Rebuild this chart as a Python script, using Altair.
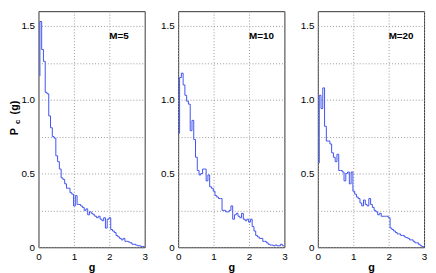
import altair as alt
import pandas as pd

# bin starts (g) for the step curves
G = [round(0.04 + 0.05 * i, 2) for i in range(60)]

labels = ["M=5", "M=10", "M=20"]
start_vals = [1.16, 0.77, 0.57]

P5 = [1.53, 1.34, 1.26, 1.05, 1.04, 0.89, 0.81, 0.75, 0.74, 0.62,
      0.58, 0.53, 0.47, 0.46, 0.43, 0.40, 0.40, 0.37, 0.36, 0.28,
      0.35, 0.29, 0.29, 0.28, 0.27, 0.25, 0.26, 0.22, 0.24, 0.23,
      0.22, 0.21, 0.20, 0.21, 0.19, 0.18, 0.20, 0.13, 0.19, 0.20,
      0.12, 0.11, 0.10, 0.08, 0.07, 0.06, 0.05, 0.06, 0.04, 0.04,
      0.035, 0.03, 0.02, 0.02, 0.015, 0.01, 0.01, 0.005, 0.005, 0.003]

P10 = [1.15, 1.18, 1.10, 1.03, 0.99, 0.97, 0.79, 0.86, 0.73, 0.61,
       0.52, 0.49, 0.50, 0.53, 0.53, 0.45, 0.49, 0.41, 0.40, 0.38,
       0.35, 0.34, 0.33, 0.33, 0.25, 0.25, 0.24, 0.24, 0.25, 0.28,
       0.19, 0.22, 0.23, 0.21, 0.20, 0.23, 0.19, 0.18, 0.19, 0.17,
       0.19, 0.14, 0.11, 0.08, 0.07, 0.06, 0.06, 0.04, 0.04, 0.03,
       0.02, 0.015, 0.015, 0.01, 0.015, 0.01, 0.01, 0.02, 0.01, 0.01]

P20 = [1.03, 0.94, 1.08, 0.82, 0.72, 0.72, 0.70, 0.64, 0.61, 0.58,
       0.63, 0.52, 0.52, 0.51, 0.45, 0.50, 0.51, 0.43, 0.51, 0.38,
       0.36, 0.34, 0.33, 0.30, 0.28, 0.32, 0.29, 0.28, 0.33, 0.29,
       0.27, 0.25, 0.24, 0.22, 0.23, 0.21, 0.21, 0.21, 0.21, 0.20,
       0.13, 0.12, 0.11, 0.10, 0.09, 0.09, 0.08, 0.08, 0.07, 0.065,
       0.06, 0.05, 0.05, 0.04, 0.03, 0.03, 0.02, 0.01, 0.005, 0.003]

series = [P5, P10, P20]

FONT = "Liberation Sans"
BLUE = "#3f52f0"
Y_TICKS = [0, 0.25, 0.5, 0.75, 1.0, 1.25, 1.5]
X_TICKS = [0, 1, 2, 3]
W, H = 108, 240

X_ENC = alt.X("g:Q", scale=alt.Scale(domain=[0, 3], nice=False),
              axis=alt.Axis(values=X_TICKS, title="g", format="d", ticks=False,
                            labelOverlap=False, labelFlush=False,
                            grid=True, gridDash=[1, 2], gridColor="#999999",
                            labelFont=FONT, labelFontSize=10, labelColor="black",
                            labelPadding=4, titleFont=FONT, titleFontSize=11,
                            titleFontWeight="bold", titlePadding=1, domain=False))
Y_ENC = alt.Y("p:Q", scale=alt.Scale(domain=[0, 1.6], nice=False),
              axis=alt.Axis(values=Y_TICKS, title=None, ticks=False,
                            labelOverlap=False, labelFlush=False,
                            labelExpr="datum.value == 0 ? '0' : (abs(datum.value * 2 - round(datum.value * 2)) < 0.001 ? format(datum.value, '.1f') : '')",
                            grid=True, gridDash=[1, 2], gridColor="#999999",
                            labelFont=FONT, labelFontSize=10, labelColor="black",
                            labelPadding=4, domain=False))


def panel(idx):
    rows = [{"g": G[0], "p": start_vals[idx], "o": 0}]
    rows += [{"g": g, "p": v, "o": i + 1} for i, (g, v) in enumerate(zip(G, series[idx]))]
    df = pd.DataFrame(rows)
    line = alt.Chart(df).mark_line(interpolate="step-after", color=BLUE,
                                   strokeWidth=1).encode(x=X_ENC, y=Y_ENC, order="o:Q")
    lab = alt.Chart(pd.DataFrame({"g": [2.0], "p": [1.43], "t": [labels[idx]]})).mark_text(
        align="left", baseline="middle", font=FONT, fontSize=10, fontWeight="bold",
        color="black").encode(x=X_ENC, y=Y_ENC, text="t:N")
    layers = [line, lab]
    if idx == 0:
        tdf = pd.DataFrame({"t": ["P", "c", "(g)"], "p": [0.783, 0.85, 0.947],
                            "dx": [-24, -20.5, -24], "fs": [11, 8, 11]})
        for _, r in tdf.iterrows():
            layers.append(alt.Chart(pd.DataFrame([r])).mark_text(
                angle=270, align="center", baseline="middle", font=FONT,
                fontSize=float(r["fs"]), fontWeight="bold", color="black"
            ).encode(x=alt.value(float(r["dx"])), y=Y_ENC, text="t:N"))
    return alt.layer(*layers).properties(width=W, height=H)


chart = alt.hconcat(panel(0), panel(1), panel(2), spacing=34, bounds="flush").configure_view(
    stroke="#333333", strokeWidth=1
).properties(padding=0, background="white")

chart.save("out.html", embed_options={"renderer": "svg", "actions": False})
